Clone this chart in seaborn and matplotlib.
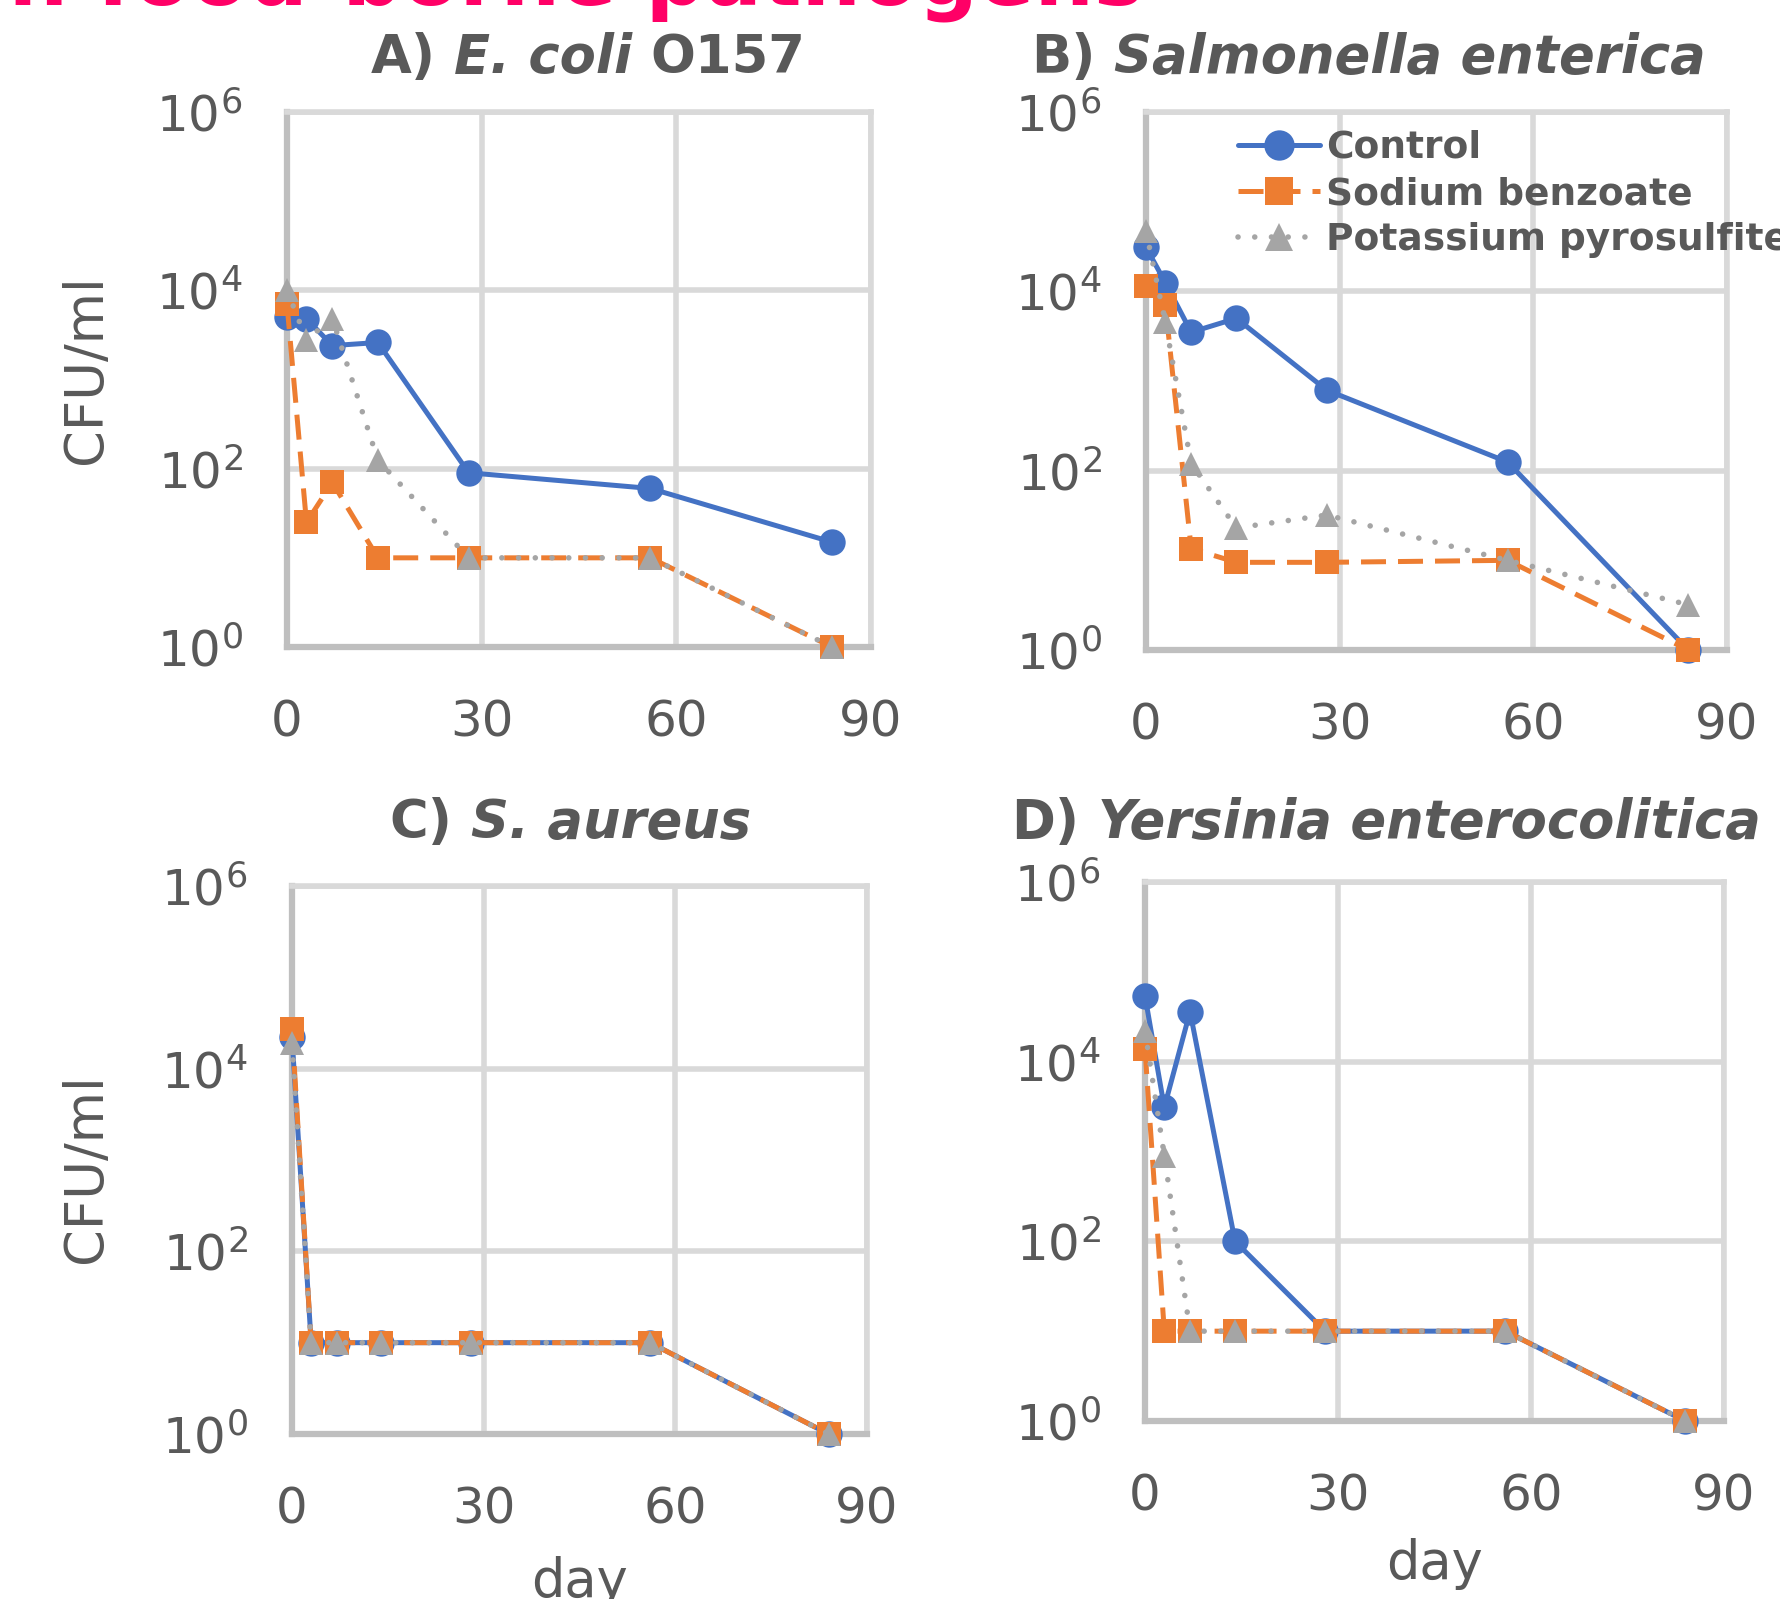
import matplotlib
matplotlib.use('Agg')
import numpy as np
import pandas as pd
import matplotlib.pyplot as plt
import seaborn as sns
from matplotlib.ticker import FixedLocator, NullLocator, FuncFormatter

sns.set_style('white')
plt.rcParams['font.family'] = ['DejaVu Sans']

# 取樣天數
days = [0, 3, 7, 14, 28, 56, 84]

# A) E. coli O157
ecoli_control = [5000, 4800, 2400, 2600, 90, 60, 15]
ecoli_benzoate = [7000, 25, 70, 10, 10, 10, 1]
ecoli_pyrosulfite = [10000, 2800, 4800, 125, 10, 10, 1]

# B) Salmonella enterica
salm_control = [31000, 12500, 3500, 5000, 790, 125, 1]
salm_benzoate = [11500, 7000, 13.5, 9.5, 9.5, 10, 1]
salm_pyrosulfite = [47000, 4500, 120, 23, 32, 10, 3.2]

# C) S. aureus
saur_control = [22000, 10, 10, 10, 10, 10, 1]
saur_benzoate = [27000, 10, 10, 10, 10, 10, 1]
saur_pyrosulfite = [19000, 10, 10, 10, 10, 10, 1]

# D) Yersinia enterocolitica
yers_control = [54000, 3100, 36000, 100, 10, 10, 1]
yers_benzoate = [13800, 10, 10, 10, 10, 10, 1]
yers_pyrosulfite = [22000, 900, 10, 10, 10, 10, 1]

series_names = ['Control', 'Sodium benzoate', 'Potassium pyrosulfite']
# 標題: (一般, 斜體, 一般)
panel_titles = [('A)', 'E. coli', 'O157'),
                ('B)', 'Salmonella enterica', ''),
                ('C)', 'S. aureus', ''),
                ('D)', 'Yersinia enterocolitica', '')]
panel_data = [
    [ecoli_control, ecoli_benzoate, ecoli_pyrosulfite],
    [salm_control, salm_benzoate, salm_pyrosulfite],
    [saur_control, saur_benzoate, saur_pyrosulfite],
    [yers_control, yers_benzoate, yers_pyrosulfite],
]

TXT = '#595959'
GRID = '#D9D9D9'
SPINE = '#BFBFBF'
styles = [
    dict(color='#4472C4', marker='o', markersize=19, linewidth=3.6, linestyle='-'),
    dict(color='#ED7D31', marker='s', markersize=17, linewidth=3.6, linestyle=(0, (5, 2.4))),
    dict(color='#A5A5A5', marker='^', markersize=17, linewidth=4, linestyle=(0, (0.01, 3)),
         dash_capstyle='round'),
]

W, H = 1781, 1599
fig = plt.figure(figsize=(W / 100, H / 100), dpi=100)
renderer = fig.canvas.get_renderer()

# 各子圖位置 (像素: 左, 上, 右, 下)
boxes = [(287, 112, 871, 647), (1146, 112, 1727, 650),
         (292, 886, 867, 1434), (1145, 882, 1724, 1421)]
title_pos = [(588, 73), (1368, 73), (570, 838), (1386, 838)]


def mixed_title(cx, base, parts):
    # 粗體 + 粗斜體 混排, 置中
    pieces = [(p, s) for p, s in zip(parts, ['normal', 'italic', 'normal']) if p]
    probe = fig.text(0, 0, 'a a', fontsize=38, fontweight='bold')
    probe2 = fig.text(0, 0, 'aa', fontsize=38, fontweight='bold')
    gap = probe.get_window_extent(renderer).width - probe2.get_window_extent(renderer).width
    probe.remove()
    probe2.remove()
    objs, widths = [], []
    for p, s in pieces:
        t = fig.text(0, 1 - base / H, p, fontsize=38, fontweight='bold', fontstyle=s,
                     color=TXT, ha='left', va='baseline')
        objs.append(t)
        widths.append(t.get_window_extent(renderer).width)
    total = sum(widths) + gap * (len(objs) - 1)
    x = cx - total / 2
    for t, w in zip(objs, widths):
        t.set_x(x / W)
        x += w + gap


axes = []
for i, (l, t, r, b) in enumerate(boxes):
    ax = fig.add_axes([l / W, 1 - b / H, (r - l) / W, (b - t) / H])
    axes.append(ax)
    for j, vals in enumerate(panel_data[i]):
        df = pd.DataFrame({'day': days, 'cfu': vals})
        sns.lineplot(data=df, x='day', y='cfu', ax=ax, errorbar=None,
                     markeredgewidth=0, markeredgecolor=styles[j]['color'],
                     clip_on=False, zorder=3 + j, **styles[j])
    ax.set_yscale('log')
    ax.set_xlim(0, 90)
    ax.set_ylim(1, 1e6)
    ax.set_xticks([0, 30, 60, 90])
    ax.yaxis.set_major_locator(FixedLocator([1, 1e2, 1e4, 1e6]))
    ax.yaxis.set_minor_locator(NullLocator())
    ax.yaxis.set_major_formatter(FuncFormatter(
        lambda v, p: r'$\mathdefault{10^{%d}}$' % int(round(np.log10(v)))))
    ax.tick_params(length=0, labelsize=36, colors=TXT)
    ax.tick_params(axis='x', pad=37)
    ax.tick_params(axis='y', pad=32)
    ax.grid(True, color=GRID, linewidth=4)
    ax.set_axisbelow(True)
    for side in ['top', 'right']:
        ax.spines[side].set_color(GRID)
        ax.spines[side].set_linewidth(4)
    for side in ['left', 'bottom']:
        ax.spines[side].set_color(SPINE)
        ax.spines[side].set_linewidth(4.5)
    ax.set_xlabel('')
    ax.set_ylabel('')
    mixed_title(title_pos[i][0], title_pos[i][1], panel_titles[i])

for k in [0, 2]:
    axes[k].set_ylabel('CFU/ml', fontsize=38, color=TXT)
axes[0].yaxis.set_label_coords(-0.30, 0.52)
axes[2].yaxis.set_label_coords(-0.313, 0.485)
for k in [2, 3]:
    axes[k].set_xlabel('day', fontsize=38, color=TXT)
axes[2].xaxis.set_label_coords(0.5, -0.222)
axes[3].xaxis.set_label_coords(0.5, -0.217)

fig.legend(axes[1].lines[:3], series_names, loc='upper left',
           bbox_to_anchor=(1238 / W, 1 - 130 / H), frameon=False,
           borderpad=0, borderaxespad=0, handlelength=2.2, handletextpad=0.15,
           labelspacing=0.27, markerscale=1.15,
           prop={'weight': 'bold', 'size': 27}, labelcolor=TXT)

fig.text(1144 / W, 1 - 5 / H, 'Effect of preservatives on food-borne pathogens',
         ha='right', va='baseline', fontsize=60, fontweight='bold', color='#FF0066')

fig.savefig('out.png', dpi=100)
